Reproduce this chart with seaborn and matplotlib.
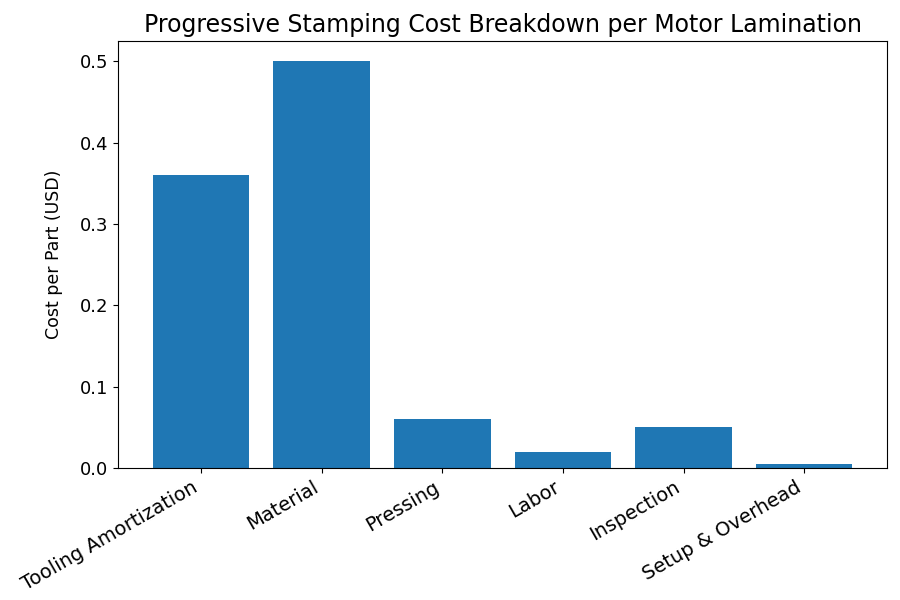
import matplotlib
matplotlib.use('Agg')
import matplotlib.pyplot as plt
import pandas as pd
import seaborn as sns

categories = ['Tooling Amortization', 'Material', 'Pressing', 'Labor', 'Inspection', 'Setup & Overhead']
costs = [0.36, 0.50, 0.06, 0.02, 0.05, 0.005]

df = pd.DataFrame({'component': categories, 'cost': costs})

sns.set_style('ticks')
plt.rcParams['font.family'] = ['DejaVu Sans']
plt.rcParams['text.color'] = 'black'
plt.rcParams['axes.labelcolor'] = 'black'
plt.rcParams['xtick.color'] = 'black'
plt.rcParams['ytick.color'] = 'black'
plt.rcParams['axes.edgecolor'] = 'black'

fig, ax = plt.subplots(figsize=(9, 6), dpi=100)
sns.barplot(x='component', y='cost', data=df, color='#1f77b4', saturation=1, width=0.8,
            linewidth=0, ax=ax)
ax.set_xlim(-0.69, 5.69)
ax.set_ylim(0, 0.525)
ax.set_title("Progressive Stamping Cost Breakdown per Motor Lamination", fontsize=17)
ax.set_xlabel("")
ax.set_ylabel("Cost per Part (USD)", fontsize=12.5, labelpad=12)
ax.tick_params(axis='y', labelsize=13)
ax.tick_params(axis='x', labelsize=14)
plt.setp(ax.get_xticklabels(), rotation=30, ha='right')
for s in ax.spines.values():
    s.set_visible(True)
fig.subplots_adjust(left=0.131, right=0.986, top=0.932, bottom=0.22)
plt.savefig('out.png', dpi=100)
